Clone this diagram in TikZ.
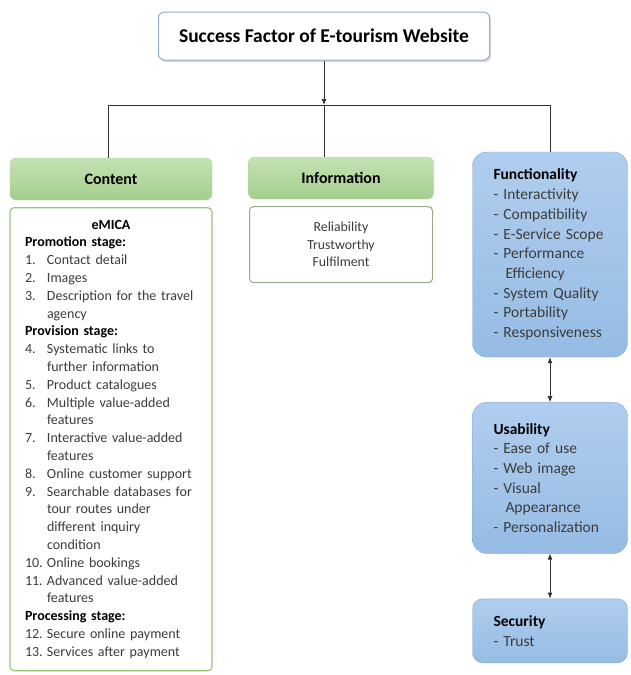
\documentclass[tikz,border=0pt]{standalone}
\usepackage{fontspec}
\setmainfont{Carlito}
\usetikzlibrary{arrows.meta,positioning,shadows}

\definecolor{hdrgreen}{RGB}{164,206,140}
\definecolor{hdrgreenlt}{RGB}{196,226,180}
\definecolor{bordergreen}{RGB}{150,196,120}
\definecolor{infoborder}{RGB}{150,172,140}
\definecolor{boxblue}{RGB}{150,188,228}
\definecolor{boxbluelt}{RGB}{176,205,238}
\definecolor{borderblue}{RGB}{135,172,214}
\definecolor{titleblue}{RGB}{150,172,200}
\definecolor{txtgrey}{RGB}{60,60,60}

\begin{document}
\begin{tikzpicture}[
  x=1pt, y=-1pt,
  node distance=7pt,
  titlebox/.style={draw=titleblue, line width=1pt, rounded corners=6pt, fill=white,
    drop shadow={shadow xshift=1.5pt, shadow yshift=-2pt, opacity=.3},
    minimum width=331pt, minimum height=48pt, font=\fontsize{19.5pt}{22pt}\selectfont\bfseries},
  header/.style={draw=bordergreen!70, rounded corners=6pt, top color=hdrgreenlt, bottom color=hdrgreen,
    minimum height=42pt, font=\fontsize{16pt}{18pt}\selectfont\bfseries},
  listbox/.style={draw=bordergreen, line width=1.1pt, rounded corners=4pt, fill=white, text=txtgrey,
    font=\fontsize{14pt}{17.8pt}\selectfont},
  factor/.style={draw=borderblue, rounded corners=14pt, top color=boxbluelt, bottom color=boxblue,
    minimum width=155pt, align=left, text width=113pt, text=txtgrey,
    font=\fontsize{15.5pt}{19.7pt}\selectfont},
  link/.style={draw=black!80, line width=.8pt},
  tip/.style={-{Latex[length=6pt,width=5pt]}},
  both/.style={{Latex[length=6pt,width=5pt]}-{Latex[length=6pt,width=5pt]}}
]
  \useasboundingbox (0,0) rectangle (631,675);

  % top box
  \node[titlebox] (title) at (324,36) {Success Factor of E-tourism Website};

  % the three groups
  \node[header,minimum width=202pt] (content) at (111,179) {Content};
  \node[header,minimum width=185pt] (info) at (341,178) {Information};

  \node[listbox,below=of content,minimum width=202pt,minimum height=463pt,
    text width=172pt,align=left] (emica) {%
    \makebox[172pt][c]{\textbf{\color{black}eMICA}}\\
    \textbf{\color{black}Promotion stage:}\\
    \makebox[22pt][l]{1.}Contact detail\\
    \makebox[22pt][l]{2.}Images\\
    \makebox[22pt][l]{3.}Description for the travel\\
    \hspace*{22pt}agency\\
    \textbf{\color{black}Provision stage:}\\
    \makebox[22pt][l]{4.}Systematic links to\\
    \hspace*{22pt}further information\\
    \makebox[22pt][l]{5.}Product catalogues\\
    \makebox[22pt][l]{6.}Multiple value-added\\
    \hspace*{22pt}features\\
    \makebox[22pt][l]{7.}Interactive value-added\\
    \hspace*{22pt}features\\
    \makebox[22pt][l]{8.}Online customer support\\
    \makebox[22pt][l]{9.}Searchable databases for\\
    \hspace*{22pt}tour routes under\\
    \hspace*{22pt}different inquiry\\
    \hspace*{22pt}condition\\
    \makebox[22pt][l]{10.}Online bookings\\
    \makebox[22pt][l]{11.}Advanced value-added\\
    \hspace*{22pt}features\\
    \textbf{\color{black}Processing stage:}\\
    \makebox[22pt][l]{12.}Secure online payment\\
    \makebox[22pt][l]{13.}Services after payment};

  \node[listbox,below=of info,minimum width=183pt,minimum height=76pt,align=center,
    line width=1pt,draw=infoborder,font=\fontsize{13.8pt}{17.5pt}\selectfont] (infolist)
    {Reliability\\Trustworthy\\Fulfilment};

  \node[factor,minimum height=205pt] (func) at (550,254.5) {%
    \textbf{\color{black}Functionality}\\
    -~Interactivity\\
    -~Compatibility\\
    -~E-Service~Scope\\
    -~Performance\\
    \hspace*{12pt}Efficiency\\
    -~System~Quality\\
    -~Portability\\
    -~Responsiveness};
  \node[factor,below=45pt of func,minimum height=151pt] (usab) {%
    \textbf{\color{black}Usability}\\
    -~Ease~of~use\\
    -~Web~image\\
    -~Visual\\
    \hspace*{12pt}Appearance\\
    -~Personalization};
  \node[factor,below=45pt of usab,minimum height=64pt,rounded corners=10pt] (secu) {%
    \textbf{\color{black}Security}\\
    -~Trust};

  % connectors
  \coordinate (jc) at (108,105);
  \coordinate (jf) at (550,105);
  \coordinate (jt) at (title.south |- jc);
  \draw[link] (jc) -- (jf);
  \draw[link,tip] (title.south) -- (jt);
  \draw[link] (jt) -- (jt |- info.north);
  \draw[link] (jc) -- (jc |- content.north);
  \draw[link] (jf) -- (func.north);
  \draw[link,both] (func.south) -- (usab.north);
  \draw[link,both] (usab.south) -- (secu.north);
\end{tikzpicture}
\end{document}
